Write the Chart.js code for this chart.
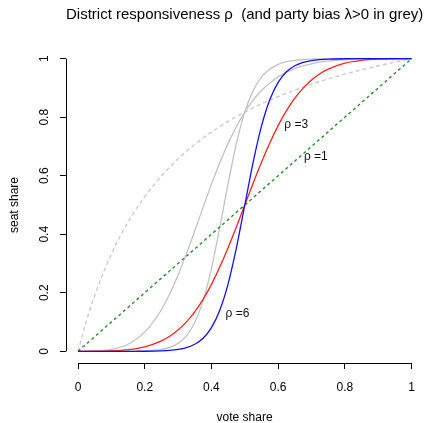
<!DOCTYPE html>
<html>
<head>
<meta charset="utf-8">
<script src="https://cdn.jsdelivr.net/npm/chart.js@4/dist/chart.umd.min.js"></script>
<style>
    html, body { margin: 0; padding: 0; background: #fff; }
    canvas { display: block; }
</style>
</head>
<body>
<canvas id="chart" width="426" height="423"></canvas>
<script>
// vote share grid shared by all curves
const voteShare = [0, 0.025, 0.05, 0.1, 0.15, 0.2, 0.25, 0.275, 0.3, 0.325, 0.35, 0.375, 0.4, 0.425, 0.45, 0.475,
    0.5, 0.525, 0.55, 0.575, 0.6, 0.625, 0.65, 0.675, 0.7, 0.725, 0.75, 0.8, 0.85, 0.9, 0.95, 1];

// seat share
const seatsRho1 = voteShare.slice();
const seatsRho3 = [0, 0, 0.0001, 0.0014, 0.0055, 0.0154, 0.0357, 0.0517, 0.073, 0.1004, 0.135, 0.1776, 0.2286, 0.2878, 0.3539, 0.4255,
    0.5, 0.5745, 0.6461, 0.7122, 0.7714, 0.8224, 0.865, 0.8996, 0.927, 0.9483, 0.9643, 0.9846, 0.9945, 0.9986, 0.9999, 1];
const seatsRho6 = [0, 0, 0, 0, 0, 0.0002, 0.0014, 0.003, 0.0062, 0.0123, 0.0239, 0.0445, 0.0809, 0.1405, 0.2307, 0.354,
    0.5, 0.646, 0.7693, 0.8595, 0.9191, 0.9555, 0.9761, 0.9877, 0.9938, 0.997, 0.9986, 0.9998, 1, 1, 1, 1];
const seatsBiasRho1 = [0, 0.103, 0.1909, 0.3324, 0.4416, 0.5284, 0.599, 0.6296, 0.6576, 0.6833, 0.707, 0.7289, 0.7492, 0.7681, 0.7857, 0.8022,
    0.8176, 0.832, 0.8456, 0.8584, 0.8705, 0.8819, 0.8927, 0.903, 0.9127, 0.922, 0.9308, 0.9472, 0.9621, 0.9758, 0.9884, 1];
const seatsBiasRho3 = [0, 0.0001, 0.0007, 0.0061, 0.0241, 0.0654, 0.1419, 0.1967, 0.261, 0.3334, 0.4117, 0.4918, 0.5705, 0.6443, 0.7106, 0.7685,
    0.8176, 0.8581, 0.8911, 0.9173, 0.9379, 0.9541, 0.9664, 0.9757, 0.9827, 0.988, 0.9918, 0.9965, 0.9988, 0.9997, 1, 1];
const seatsBiasRho6 = [0, 0, 0, 0, 0.0001, 0.0011, 0.0061, 0.0132, 0.0271, 0.0527, 0.0987, 0.1723, 0.2829, 0.4231, 0.5735, 0.7109,
    0.8176, 0.8909, 0.9373, 0.9648, 0.9807, 0.9897, 0.9946, 0.9972, 0.9986, 0.9993, 0.9997, 1, 1, 1, 1, 1];

const xTicks = [0, 0.2, 0.4, 0.6, 0.8, 1];
const xTickLabels = ["0", "0.2", "0.4", "0.6", "0.8", "1"];
const yTicks = [0, 0.2, 0.4, 0.6, 0.8, 1];
const yTickLabels = ["0", "0.2", "0.4", "0.6", "0.8", "1"];

const curveLabels = ["\u03c1 =3", "\u03c1 =1", "\u03c1 =6"];
const curveLabelAt = [[0.654, 0.774], [0.713, 0.664], [0.478, 0.13]];

const FONT = "'Liberation Sans', Arimo, Arial, sans-serif";

function points(ys) {
    return voteShare.map((v, i) => ({ x: v, y: ys[i] }));
}

function curve(label, ys, color, width, dash, order) {
    return {
        label: label,
        data: points(ys),
        borderColor: color,
        borderWidth: width,
        borderDash: dash,
        pointRadius: 0,
        fill: false,
        cubicInterpolationMode: "monotone",
        order: order,
    };
}

// R style axis line, only from first to last tick, plus the curve labels
const axisLines = {
    id: "axisLines",
    afterDraw(chart) {
        const { ctx, chartArea, scales } = chart;
        ctx.save();
        ctx.strokeStyle = "#000";
        ctx.lineWidth = 1;
        ctx.beginPath();
        const yb = Math.round(chartArea.bottom) + 0.5;
        ctx.moveTo(scales.x.getPixelForValue(xTicks[0]), yb);
        ctx.lineTo(scales.x.getPixelForValue(xTicks[xTicks.length - 1]), yb);
        const xl = Math.round(chartArea.left) + 0.5;
        ctx.moveTo(xl, scales.y.getPixelForValue(yTicks[0]));
        ctx.lineTo(xl, scales.y.getPixelForValue(yTicks[yTicks.length - 1]));
        ctx.stroke();

        ctx.fillStyle = "#111";
        ctx.font = "12px " + FONT;
        ctx.textAlign = "center";
        ctx.textBaseline = "middle";
        curveLabels.forEach((txt, i) => {
            ctx.fillText(txt, scales.x.getPixelForValue(curveLabelAt[i][0]), scales.y.getPixelForValue(curveLabelAt[i][1]));
        });
        ctx.restore();
    },
};

new Chart("chart", {
    type: "line",
    data: {
        datasets: [
            curve("rho 6", seatsRho6, "#1010ff", 1.3, [], 1),
            curve("rho 3", seatsRho3, "#ff2020", 1.3, [], 2),
            curve("rho 1", seatsRho1, "#2f8a2f", 1.4, [3, 3], 3),
            curve("bias rho 6", seatsBiasRho6, "#c2c2c2", 1.3, [], 4),
            curve("bias rho 3", seatsBiasRho3, "#c2c2c2", 1.3, [], 5),
            curve("bias rho 1", seatsBiasRho1, "#cbcbcb", 1.4, [4, 3], 6),
        ],
    },
    options: {
        responsive: false,
        animation: false,
        devicePixelRatio: 1,
        layout: { padding: { left: 0, right: 1, top: 0, bottom: 0 } },
        plugins: {
            legend: { display: false },
            tooltip: { enabled: false },
            title: {
                display: true,
                fullSize: false,
                text: "District responsiveness \u03c1  (and party bias \u03bb>0 in grey)",
                color: "#000",
                font: { family: FONT, size: 15, weight: "normal", lineHeight: 1.2 },
                padding: { top: 6, bottom: 23 },
            },
        },
        scales: {
            x: {
                type: "linear",
                min: -0.036,
                max: 1.035,
                afterBuildTicks: scale => { scale.ticks = xTicks.map(v => ({ value: v })); },
                afterFit: scale => { scale.height = 60; },
                border: { display: false },
                grid: { drawOnChartArea: false, drawTicks: true, tickLength: 6, color: "#000" },
                ticks: {
                    color: "#000",
                    font: { family: FONT, size: 12 },
                    padding: 11,
                    maxRotation: 0,
                    callback: (v, i) => xTickLabels[i],
                },
                title: {
                    display: true,
                    text: "vote share",
                    color: "#000",
                    font: { family: FONT, size: 12, lineHeight: 1 },
                    padding: { top: 0, bottom: -1 },
                },
            },
            y: {
                type: "linear",
                min: -0.04,
                max: 1.04,
                afterBuildTicks: scale => { scale.ticks = yTicks.map(v => ({ value: v })); },
                afterFit: scale => { scale.width = 66; },
                border: { display: false },
                grid: { drawOnChartArea: false, drawTicks: true, tickLength: 6, color: "#000" },
                ticks: {
                    color: "#000",
                    font: { family: FONT, size: 12 },
                    padding: 7,
                    minRotation: 90,
                    maxRotation: 90,
                    crossAlign: "center",
                    callback: (v, i) => yTickLabels[i],
                },
                title: {
                    display: true,
                    text: "seat share",
                    color: "#000",
                    font: { family: FONT, size: 12, lineHeight: 1 },
                    padding: { top: 9, bottom: 0 },
                },
            },
        },
    },
    plugins: [axisLines],
});
</script>
</body>
</html>
